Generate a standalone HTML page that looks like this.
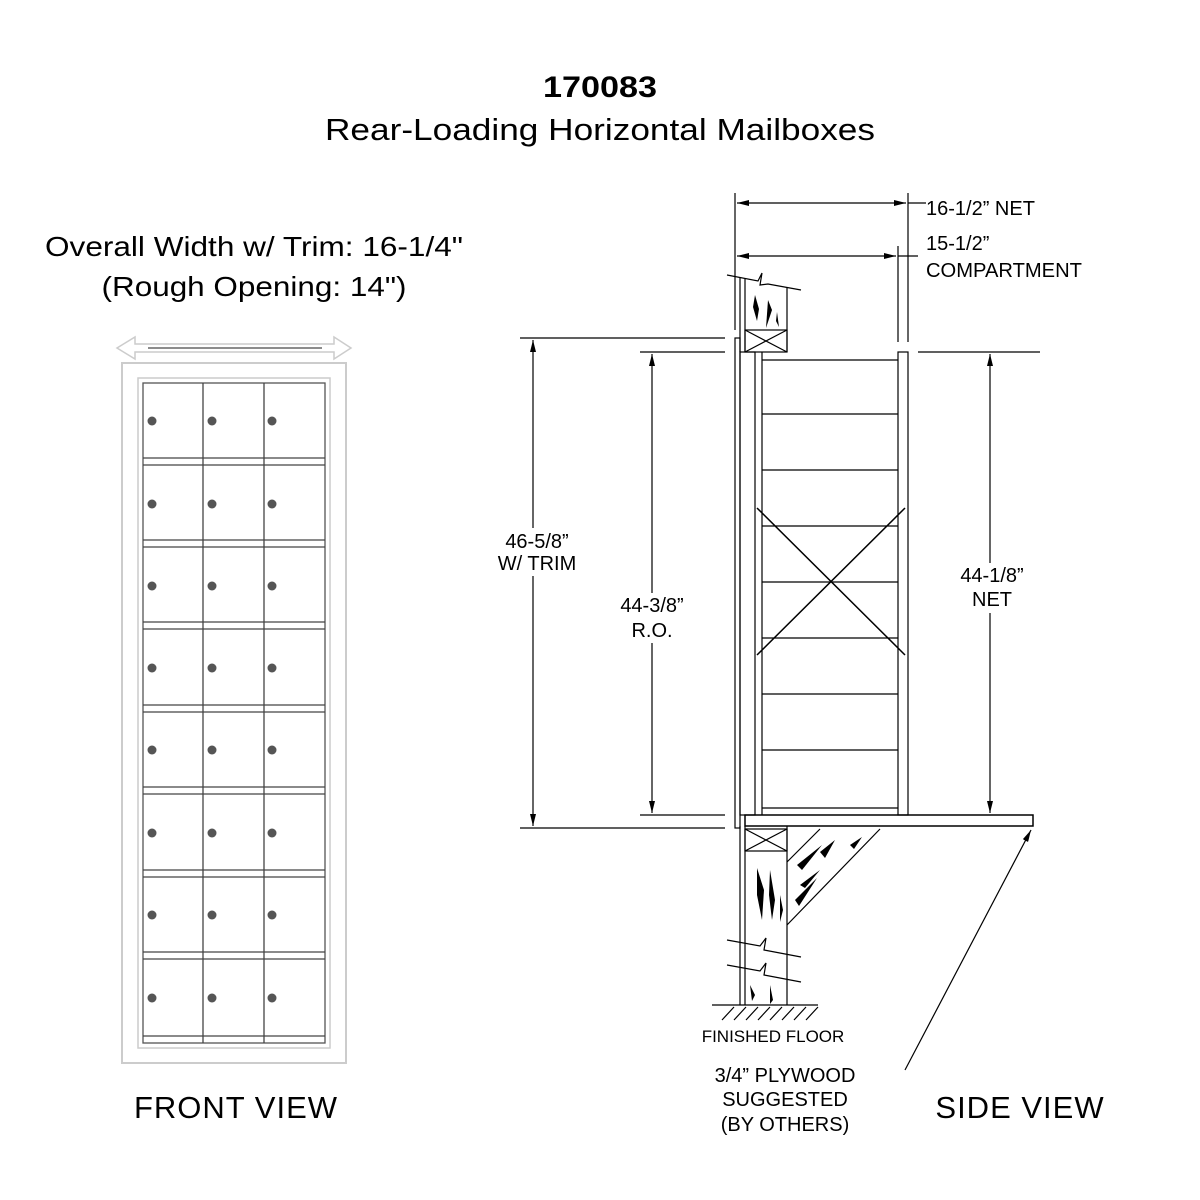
<!DOCTYPE html>
<html><head><style>body{margin:0;background:#fff}svg{display:block}</style></head><body>
<svg width="1200" height="1200" viewBox="0 0 1200 1200" xmlns="http://www.w3.org/2000/svg">
<defs>
<marker id="a" viewBox="0 0 12 6" refX="12" refY="3" markerWidth="12" markerHeight="6" orient="auto-start-reverse" markerUnits="userSpaceOnUse"><path d="M0,0L12,3L0,6z" fill="#000"/></marker>
</defs>
<!-- front view -->
<g fill="none">
<path d="M117,348 L135,337 L135,344 L334,344 L334,337 L351,348 L334,359 L334,352 L135,352 L135,359Z" stroke="#ccc" stroke-width="1.5"/>
<line x1="148" y1="348" x2="322" y2="348" stroke="#666" stroke-width="1.5"/>
<rect x="122" y="363" width="224" height="700" stroke="#ccc" stroke-width="2"/>
<rect x="138" y="378" width="192" height="670" stroke="#ccc" stroke-width="1.5"/>
<rect x="143" y="383" width="182" height="660" stroke="#555" stroke-width="1.3"/>
<g stroke="#444" stroke-width="1.3">
<line x1="203" y1="383" x2="203" y2="1043"/><line x1="264" y1="383" x2="264" y2="1043"/>
<line x1="143" y1="1036" x2="325" y2="1036"/>
</g>
</g>
<g stroke="#444" stroke-width="1.2" fill="none">
<path d="M143,458h182M143,465h182M143,540h182M143,547h182M143,622h182M143,629h182M143,705h182M143,712h182M143,787h182M143,794h182M143,870h182M143,877h182M143,952h182M143,959h182"/>
</g>
<g fill="#555">
<circle cx="152" cy="421" r="4.5"/><circle cx="212" cy="421" r="4.5"/><circle cx="272" cy="421" r="4.5"/>
<circle cx="152" cy="504" r="4.5"/><circle cx="212" cy="504" r="4.5"/><circle cx="272" cy="504" r="4.5"/>
<circle cx="152" cy="586" r="4.5"/><circle cx="212" cy="586" r="4.5"/><circle cx="272" cy="586" r="4.5"/>
<circle cx="152" cy="668" r="4.5"/><circle cx="212" cy="668" r="4.5"/><circle cx="272" cy="668" r="4.5"/>
<circle cx="152" cy="750" r="4.5"/><circle cx="212" cy="750" r="4.5"/><circle cx="272" cy="750" r="4.5"/>
<circle cx="152" cy="833" r="4.5"/><circle cx="212" cy="833" r="4.5"/><circle cx="272" cy="833" r="4.5"/>
<circle cx="152" cy="915" r="4.5"/><circle cx="212" cy="915" r="4.5"/><circle cx="272" cy="915" r="4.5"/>
<circle cx="152" cy="998" r="4.5"/><circle cx="212" cy="998" r="4.5"/><circle cx="272" cy="998" r="4.5"/>
</g>
<!-- side view -->
<g stroke="#000" stroke-width="1.2" fill="none">
<line x1="735" y1="193" x2="735" y2="330"/>
<line x1="908" y1="193" x2="908" y2="342"/>
<line x1="898" y1="246" x2="898" y2="342"/>
<line x1="737" y1="203" x2="906" y2="203" marker-start="url(#a)" marker-end="url(#a)"/>
<line x1="908" y1="203" x2="926" y2="203"/>
<line x1="737" y1="256" x2="896" y2="256" marker-start="url(#a)" marker-end="url(#a)"/>
<line x1="898" y1="256" x2="918" y2="256"/>
<line x1="520" y1="338" x2="725" y2="338"/>
<line x1="640" y1="352" x2="725" y2="352"/>
<line x1="918" y1="352" x2="1040" y2="352"/>
<line x1="520" y1="828" x2="725" y2="828"/>
<line x1="640" y1="815" x2="725" y2="815"/>
<line x1="533" y1="340" x2="533" y2="826" marker-start="url(#a)" marker-end="url(#a)"/>
<line x1="652" y1="354" x2="652" y2="813" marker-start="url(#a)" marker-end="url(#a)"/>
<line x1="990" y1="354" x2="990" y2="813" marker-start="url(#a)" marker-end="url(#a)"/>
<path d="M727,275 L758,281 L762,273 L760,285 L768,284 L801,290"/>
<line x1="740" y1="278" x2="740" y2="352"/>
<line x1="745" y1="279" x2="745" y2="352"/>
<line x1="787" y1="287" x2="787" y2="352"/>
<rect x="745" y="330" width="42" height="22"/>
<path d="M745,330L787,352M787,330L745,352"/>
<rect x="735" y="338" width="5" height="490"/>
<rect x="740" y="352" width="15" height="463"/>
<line x1="762" y1="352" x2="762" y2="815"/>
<rect x="898" y="352" width="10" height="463"/>
<line x1="762" y1="360" x2="898" y2="360"/>
<path d="M762,414h136M762,470h136M762,526h136M762,582h136M762,638h136M762,694h136M762,750h136M762,808h136"/>
<path d="M757,508L905,655M905,508L757,655" stroke-width="1.5"/>
<rect x="745" y="815" width="288" height="11" stroke-width="1.5"/>
<line x1="740" y1="826" x2="740" y2="1005"/>
<line x1="745" y1="826" x2="745" y2="1005"/>
<line x1="787" y1="826" x2="787" y2="1005"/>
<rect x="745" y="829" width="42" height="22"/>
<path d="M745,829L787,851M787,829L745,851"/>
<path d="M880,829L787,925M820,829L787,862"/>
<path d="M727,940 L760,946 L766,938 L764,950 L801,957"/>
<path d="M727,965 L760,971 L766,963 L764,975 L801,982"/>
<line x1="712" y1="1005" x2="818" y2="1005"/>
<path d="M722,1020l12,-13M734,1020l12,-13M746,1020l12,-13M758,1020l12,-13M770,1020l12,-13M782,1020l12,-13M794,1020l12,-13M806,1020l12,-13"/>
<line x1="905" y1="1070" x2="1031" y2="830" marker-end="url(#a)"/>
</g>
<g fill="#000">
<path d="M755,295l4,14l-2,12l-4,-14z"/><path d="M768,300l4,10l-6,18l1,-14z"/><path d="M777,312l2,15l-3,-6z"/>
<path d="M757,868l7,22l-2,30l-5,-25z"/><path d="M770,870l5,30l-3,20l-3,-25z"/><path d="M780,895l3,15l-3,12z"/>
<path d="M750,985l5,10l-3,6z"/><path d="M770,985l3,15l-3,4z"/>
<path d="M797,865l25,-20l-20,25z"/><path d="M820,852l15,-12l-10,18z"/><path d="M795,900l22,-22l-18,28z"/><path d="M800,885l20,-15l-15,18z"/><path d="M850,845l12,-8l-8,12z"/>
</g>
<!-- text backgrounds -->
<g fill="#fff">
<rect x="495" y="528" width="85" height="48"/>
<rect x="610" y="593" width="85" height="50"/>
<rect x="950" y="563" width="85" height="50"/>
</g>
<g font-family="'Liberation Sans',sans-serif" text-anchor="middle" fill="#000">
<text x="600" y="97" font-size="30" font-weight="bold" textLength="114" lengthAdjust="spacingAndGlyphs">170083</text>
<text x="600" y="140" font-size="31" textLength="550" lengthAdjust="spacingAndGlyphs">Rear-Loading Horizontal Mailboxes</text>
<text x="254" y="256" font-size="28" textLength="418" lengthAdjust="spacingAndGlyphs">Overall Width w/ Trim: 16-1/4"</text>
<text x="254" y="296" font-size="28" textLength="305" lengthAdjust="spacingAndGlyphs">(Rough Opening: 14")</text>
<text x="236" y="1118" font-size="31" letter-spacing="1">FRONT VIEW</text>
<text x="1020" y="1118" font-size="31" letter-spacing="1">SIDE VIEW</text>
<g font-size="20">
<text x="926" y="215" text-anchor="start">16-1/2” NET</text>
<text x="926" y="250" text-anchor="start">15-1/2”</text>
<text x="926" y="277" text-anchor="start" textLength="156" lengthAdjust="spacingAndGlyphs">COMPARTMENT</text>
<text x="537" y="548">46-5/8”</text><text x="537" y="570">W/ TRIM</text>
<text x="652" y="612">44-3/8”</text><text x="652" y="637">R.O.</text>
<text x="992" y="582">44-1/8”</text><text x="992" y="606">NET</text>
<text x="785" y="1082">3/4” PLYWOOD</text>
<text x="785" y="1106">SUGGESTED</text>
<text x="785" y="1131">(BY OTHERS)</text>
</g>
<text x="773" y="1042" font-size="17">FINISHED FLOOR</text>
</g>
</svg>
</body></html>
